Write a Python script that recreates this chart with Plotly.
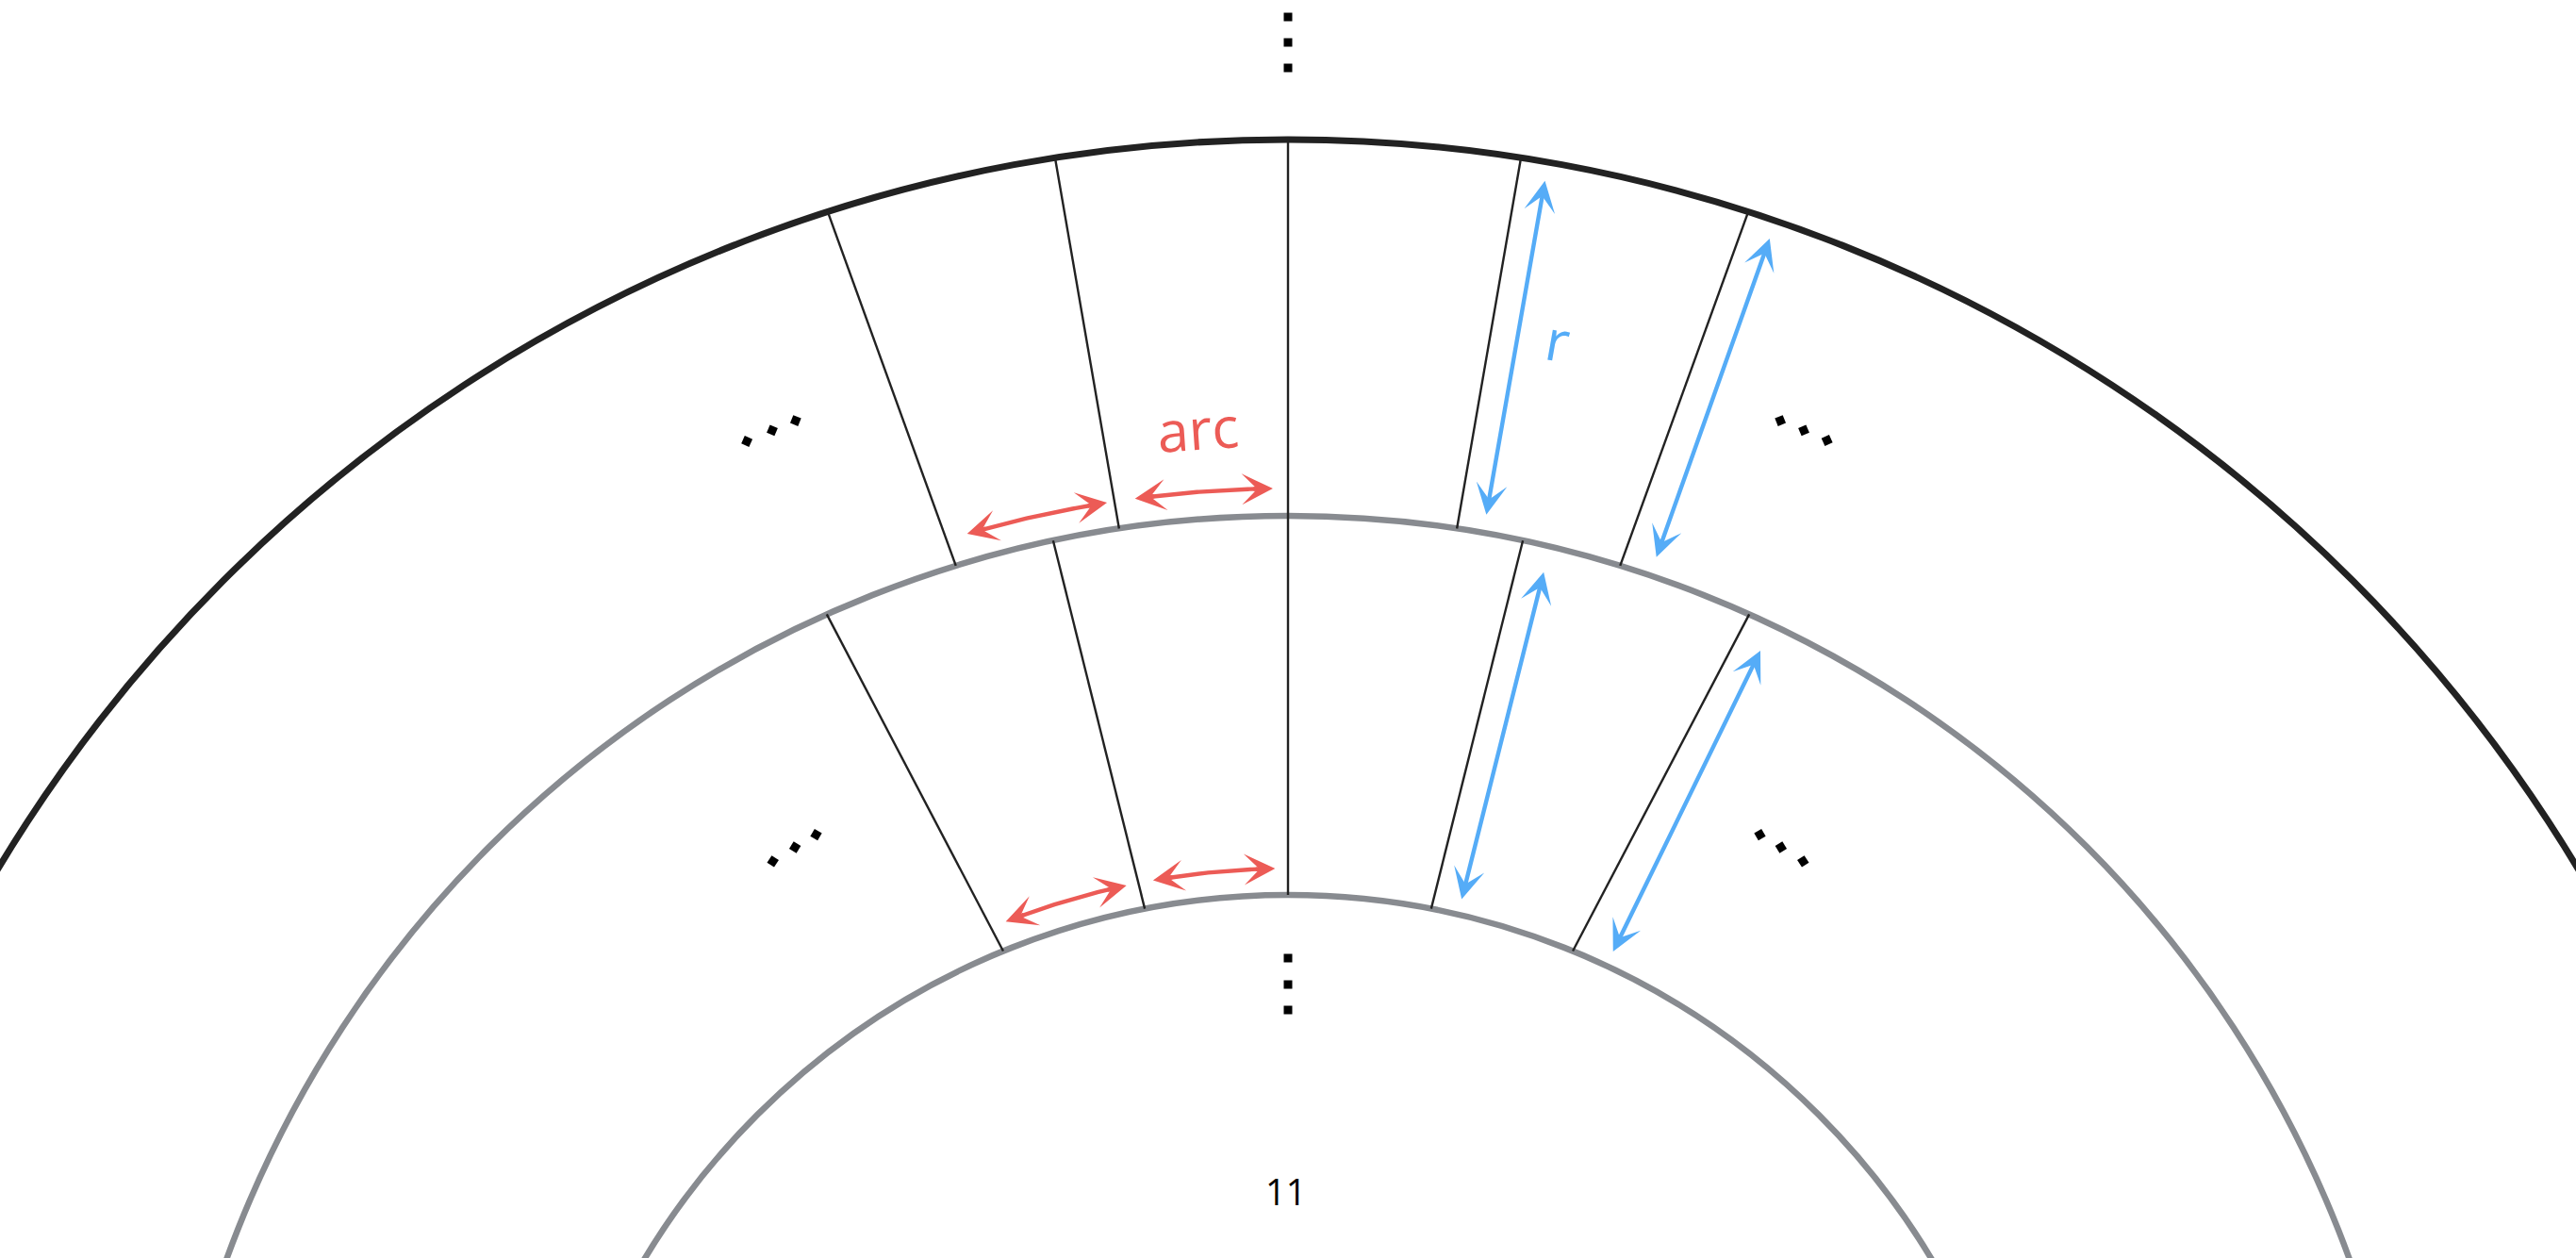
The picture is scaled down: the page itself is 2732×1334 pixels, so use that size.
import numpy as np
import plotly.graph_objects as go

# ring radii, in page pixels measured from the common centre (which lies below the page)
ring_radii = [1597, 1198, 796]
ring_colours = ['#222222', '#888b90', '#888b90']
ring_widths = [7, 6.5, 6.5]

# dividers, angle in degrees from vertical (+ = right) at their outer and inner end
outer_div_top = [-17.8, -8.9, 8.9, 17.8]
outer_div_bot = [-17.1, -8.6, 8.6, 17.1]
inner_div_top = [-24.1, -12.0, 12.0, 24.1]
inner_div_bot = [-22.3, -11.0, 11.0, 22.3]

# blue "r" arrows: angle at outer / inner tip, radius at outer / inner tip
r_ang_out = [9.95, 18.9, 13.4, 25.4]
r_ang_in = [9.95, 18.7, 13.1, 25.1]
r_rad_out = [1577, 1577, 1170, 1168]
r_rad_in = [1216, 1217, 811, 811]

# red "arc" arrows: radius, start angle, end angle
arc_rad = [1227, 1227, 824, 824]
arc_start = [-16.1, -7.6, -21.3, -10.0]
arc_end = [-9.0, -0.75, -12.0, -0.95]

# ellipsis dots (radius, angle)
dot_rad = [1400, 1400, 1400, 1400, 1400, 1400,
           995, 995, 995, 995, 995, 995,
           1727, 1700, 1673, 729, 701, 674]
dot_ang = [-24.2, -23.0, -21.9, 21.9, 23.0, 24.1,
           -33.3, -31.7, -30.2, 30.2, 31.7, 33.3,
           0, 0, 0, 0, 0, 0]

RED = '#ec5b56'
BLUE = '#55acf7'
DARK = '#222222'
HEAD = 1.25


def polar(r, deg):
    t = np.radians(deg)
    return r * np.sin(t), r * np.cos(t)


fig = go.Figure()

# rings
for rad, col, w in zip(ring_radii, ring_colours, ring_widths):
    fig.add_shape(type='circle', xref='x', yref='y', x0=-rad, y0=-rad, x1=rad, y1=rad,
                  line=dict(color=col, width=w), layer='below')

# dividers
xs, ys = [], []
for a0, a1 in zip(outer_div_top, outer_div_bot):
    x0, y0 = polar(ring_radii[0], a0)
    x1, y1 = polar(ring_radii[1], a1)
    xs += [x0, x1, None]
    ys += [y0, y1, None]
for a0, a1 in zip(inner_div_top, inner_div_bot):
    x0, y0 = polar(ring_radii[1], a0)
    x1, y1 = polar(ring_radii[2], a1)
    xs += [x0, x1, None]
    ys += [y0, y1, None]
# centre line through both rings
xs += [0, 0]
ys += [ring_radii[0] + 3, ring_radii[2]]
fig.add_trace(go.Scatter(x=xs, y=ys, mode='lines', line=dict(color=DARK, width=2.4),
                         hoverinfo='skip'))

# red arcs with heads at both ends
for rad, a0, a1 in zip(arc_rad, arc_start, arc_end):
    trim = np.degrees(12 / rad)
    t = np.linspace(a0 + trim, a1 - trim, 60)
    ax_, ay_ = polar(rad, t)
    fig.add_trace(go.Scatter(x=ax_, y=ay_, mode='lines', line=dict(color=RED, width=4.4),
                             hoverinfo='skip'))
    back = np.degrees(22 / rad)
    for tip, tail in ((a1, a1 - back), (a0, a0 + back)):
        tx, ty = polar(rad, tip)
        bx, by = polar(rad, tail)
        fig.add_annotation(x=tx, y=ty, ax=bx, ay=by, axref='x', ayref='y', text='',
                           showarrow=True, arrowhead=3, arrowsize=HEAD, arrowwidth=4.4,
                           arrowcolor=RED, standoff=0)

# blue radial arrows
for ao, ai, ro, ri in zip(r_ang_out, r_ang_in, r_rad_out, r_rad_in):
    tx, ty = polar(ro, ao)
    bx, by = polar(ri, ai)
    fig.add_annotation(x=tx, y=ty, ax=bx, ay=by, axref='x', ayref='y', text='',
                       showarrow=True, arrowhead=3, arrowsize=HEAD, arrowwidth=4.4,
                       startarrowhead=3, startarrowsize=HEAD, arrowside='end+start',
                       arrowcolor=BLUE, standoff=0, startstandoff=0)

# ellipsis dots
dx, dy = polar(np.array(dot_rad), np.array(dot_ang))
fig.add_trace(go.Scatter(x=dx, y=dy, mode='markers', hoverinfo='skip',
                         marker=dict(symbol='square', size=9, color='black',
                                     angle=[-a for a in dot_ang], line=dict(width=0))))

# labels
fig.add_annotation(x=-96, y=1291, text='arc', showarrow=False, textangle=-4,
                   font=dict(family='Open Sans', size=60, color=RED))
fig.add_annotation(x=286, y=1385, text='r', showarrow=False, textangle=10,
                   font=dict(family='Open Sans', size=60, color=BLUE))
fig.add_annotation(x=-3, y=482, text='11', showarrow=False,
                   font=dict(family='Open Sans', size=38, color='black'))

fig.update_xaxes(range=[-1366, 1366], visible=False, fixedrange=True)
fig.update_yaxes(range=[411, 1745], visible=False, fixedrange=True)
fig.update_layout(width=2732, height=1334, margin=dict(l=0, r=0, t=0, b=0),
                  paper_bgcolor='white', plot_bgcolor='white', showlegend=False)

fig.write_html('out.html', config={'displayModeBar': False},
               post_script="document.body.style.margin='0';document.body.style.overflow='hidden';")
